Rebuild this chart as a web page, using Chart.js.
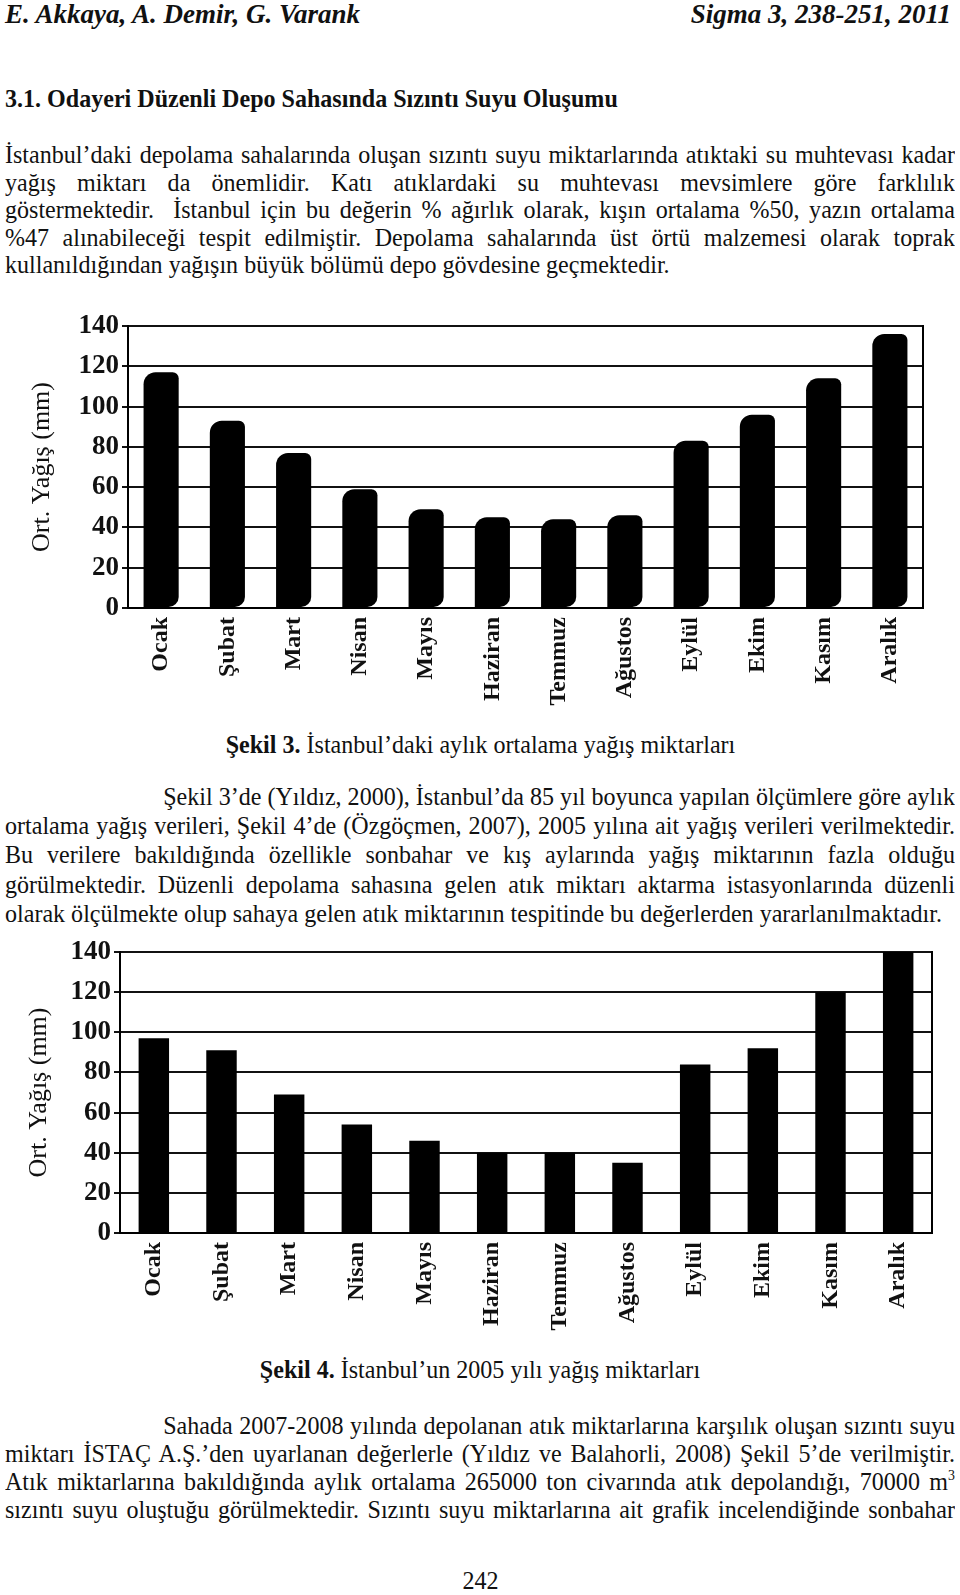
<!DOCTYPE html>
<html lang="tr">
<head>
<meta charset="utf-8">
<title>Şekil 3 - Şekil 4</title>
<script src="https://cdn.jsdelivr.net/npm/chart.js@4.4.0/dist/chart.umd.min.js"></script>
<style>
  html, body { margin: 0; padding: 0; background: #fff; }
  body { width: 960px; height: 1595px; position: relative; overflow: hidden;
         font-family: "Liberation Serif", "Times New Roman", serif; color: #111; }
  .abs { position: absolute; }
  .hdr { font-weight: bold; font-style: italic; font-size: 27px; line-height: 28px; top: 0; }
  .sq { transform-origin: 0 0; transform: scaleX(0.925); width: 1027px; font-size: 26px; }
  .sq div { white-space: nowrap; text-align: justify; text-align-last: justify; overflow: hidden; }
  .sq div.last { text-align: left; text-align-last: left; }
  .cap { width: 960px; text-align: center; font-size: 26px; line-height: 28px; }
  .cap span { display: inline-block; transform: scaleX(0.925); }
  canvas { position: absolute; left: 0; }
</style>
</head>
<body>

<div class="abs hdr" style="left:5px;">E. Akkaya, A. Demir, G. Varank</div>
<div class="abs hdr" style="right:9px;">Sigma 3, 238-251, 2011</div>

<div class="abs sq" style="left:5px; top:85px; line-height:28px;">
  <div class="last"><b>3.1. Odayeri Düzenli Depo Sahasında Sızıntı Suyu Oluşumu</b></div>
</div>

<div class="abs sq" style="left:5px; top:141px; line-height:27.5px;">
  <div>İstanbul’daki depolama sahalarında oluşan sızıntı suyu miktarlarında atıktaki su muhtevası kadar</div>
  <div>yağış miktarı da önemlidir. Katı atıklardaki su muhtevası mevsimlere göre farklılık</div>
  <div>göstermektedir.&nbsp; İstanbul için bu değerin % ağırlık olarak, kışın ortalama %50, yazın ortalama</div>
  <div>%47 alınabileceği tespit edilmiştir. Depolama sahalarında üst örtü malzemesi olarak toprak</div>
  <div class="last">kullanıldığından yağışın büyük bölümü depo gövdesine geçmektedir.</div>
</div>

<canvas id="chart1" width="960" height="420" style="top:300px;"></canvas>

<div class="abs cap" style="left:0; top:731px;"><span><b>Şekil 3.</b> İstanbul’daki aylık ortalama yağış miktarları</span></div>

<div class="abs sq" style="left:5px; top:782px; line-height:29.2px;">
  <div style="padding-left:171px;">Şekil 3’de (Yıldız, 2000), İstanbul’da 85 yıl boyunca yapılan ölçümlere göre aylık</div>
  <div>ortalama yağış verileri, Şekil 4’de (Özgöçmen, 2007), 2005 yılına ait yağış verileri verilmektedir.</div>
  <div>Bu verilere bakıldığında özellikle sonbahar ve kış aylarında yağış miktarının fazla olduğu</div>
  <div>görülmektedir. Düzenli depolama sahasına gelen atık miktarı aktarma istasyonlarında düzenli</div>
  <div class="last">olarak ölçülmekte olup sahaya gelen atık miktarının tespitinde bu değerlerden yararlanılmaktadır.</div>
</div>

<canvas id="chart2" width="960" height="410" style="top:930px;"></canvas>

<div class="abs cap" style="left:0; top:1356px;"><span><b>Şekil 4.</b> İstanbul’un 2005 yılı yağış miktarları</span></div>

<div class="abs sq" style="left:5px; top:1412px; line-height:28px;">
  <div style="padding-left:171px;">Sahada 2007-2008 yılında depolanan atık miktarlarına karşılık oluşan sızıntı suyu</div>
  <div>miktarı İSTAÇ A.Ş.’den uyarlanan değerlerle (Yıldız ve Balahorli, 2008) Şekil 5’de verilmiştir.</div>
  <div>Atık miktarlarına bakıldığında aylık ortalama 265000 ton civarında atık depolandığı, 70000 m<sup style="font-size:15px;line-height:0;">3</sup></div>
  <div>sızıntı suyu oluştuğu görülmektedir. Sızıntı suyu miktarlarına ait grafik incelendiğinde sonbahar</div>
</div>

<div class="abs cap" style="left:0; top:1567px;"><span>242</span></div>

<script>
// aylar
const months = ['Ocak', 'Şubat', 'Mart', 'Nisan', 'Mayıs', 'Haziran',
                'Temmuz', 'Ağustos', 'Eylül', 'Ekim', 'Kasım', 'Aralık'];

// Şekil 3 - 85 yıllık aylık ortalama yağış (mm)
const avgRain = [117, 93, 77, 59, 49, 45, 44, 46, 83, 96, 114, 136];

// Şekil 4 - 2005 yılı yağış (mm)
const rain2005 = [97, 91, 69, 54, 46, 40, 40, 35, 84, 92, 120, 140];

// y ekseni
const yMin = 0, yMax = 140, yStep = 20;
const yTitle = 'Ort. Yağış (mm)';

const serif = '"Liberation Serif", "Times New Roman", serif';

// tasan satirlarda kelime araligini daralt
document.querySelectorAll('.sq div').forEach(function (d) {
  var over = d.scrollWidth - d.clientWidth;
  if (over > 0) {
    var spaces = (d.textContent.trim().match(/\s+/g) || []).length || 1;
    d.style.wordSpacing = (-(over + 2) / spaces).toFixed(2) + 'px';
  }
});

// sag kenar cizgisi
const frame = {
  id: 'frame',
  afterDatasetsDraw(chart) {
    const a = chart.chartArea;
    const ctx = chart.ctx;
    ctx.save();
    ctx.strokeStyle = '#000';
    ctx.lineWidth = 2;
    ctx.beginPath();
    ctx.moveTo(a.right, a.top - 1);
    ctx.lineTo(a.right, a.bottom);
    ctx.stroke();
    ctx.restore();
  }
};

function makeChart(id, values, opt) {
  return new Chart(document.getElementById(id), {
    type: 'bar',
    data: {
      labels: months,
      datasets: [{
        data: values,
        backgroundColor: '#000',
        borderWidth: 0,
        borderSkipped: false,
        borderRadius: opt.radius,
        categoryPercentage: 1,
        barPercentage: opt.barPct
      }]
    },
    options: {
      responsive: false,
      animation: false,
      devicePixelRatio: 1,
      layout: { padding: opt.pad },
      plugins: { legend: { display: false }, tooltip: { enabled: false } },
      scales: {
        x: {
          grid: { display: false, drawTicks: false },
          border: { display: true, color: '#000', width: 2 },
          ticks: {
            color: '#111',
            font: { family: serif, size: 24, weight: 'bold' },
            maxRotation: 90, minRotation: 90,
            padding: 9,
            autoSkip: false
          },
          afterFit(s) { s.height = opt.xHeight; }
        },
        y: {
          min: yMin, max: yMax,
          grid: { color: '#111', lineWidth: 2, tickLength: 6, tickColor: '#111', tickWidth: 2 },
          border: { display: true, color: '#000', width: 2 },
          ticks: {
            stepSize: yStep,
            color: '#111',
            font: { family: serif, size: 27, weight: 'bold' },
            padding: 3
          },
          title: {
            display: true,
            text: yTitle,
            color: '#111',
            font: { family: serif, size: 26 }
          },
          afterFit(s) { s.width = opt.yWidth; }
        }
      }
    },
    plugins: [frame]
  });
}

makeChart('chart1', avgRain, {
  radius: { topLeft: 12, topRight: 6, bottomLeft: 0, bottomRight: 10 },
  barPct: 0.53,
  pad: { left: 23, right: 37, top: 26, bottom: 0 },
  xHeight: 112,
  yWidth: 105
});

makeChart('chart2', rain2005, {
  radius: 0,
  barPct: 0.45,
  pad: { left: 20, right: 28, top: 22, bottom: 0 },
  xHeight: 107,
  yWidth: 100
});
</script>
</body>
</html>
